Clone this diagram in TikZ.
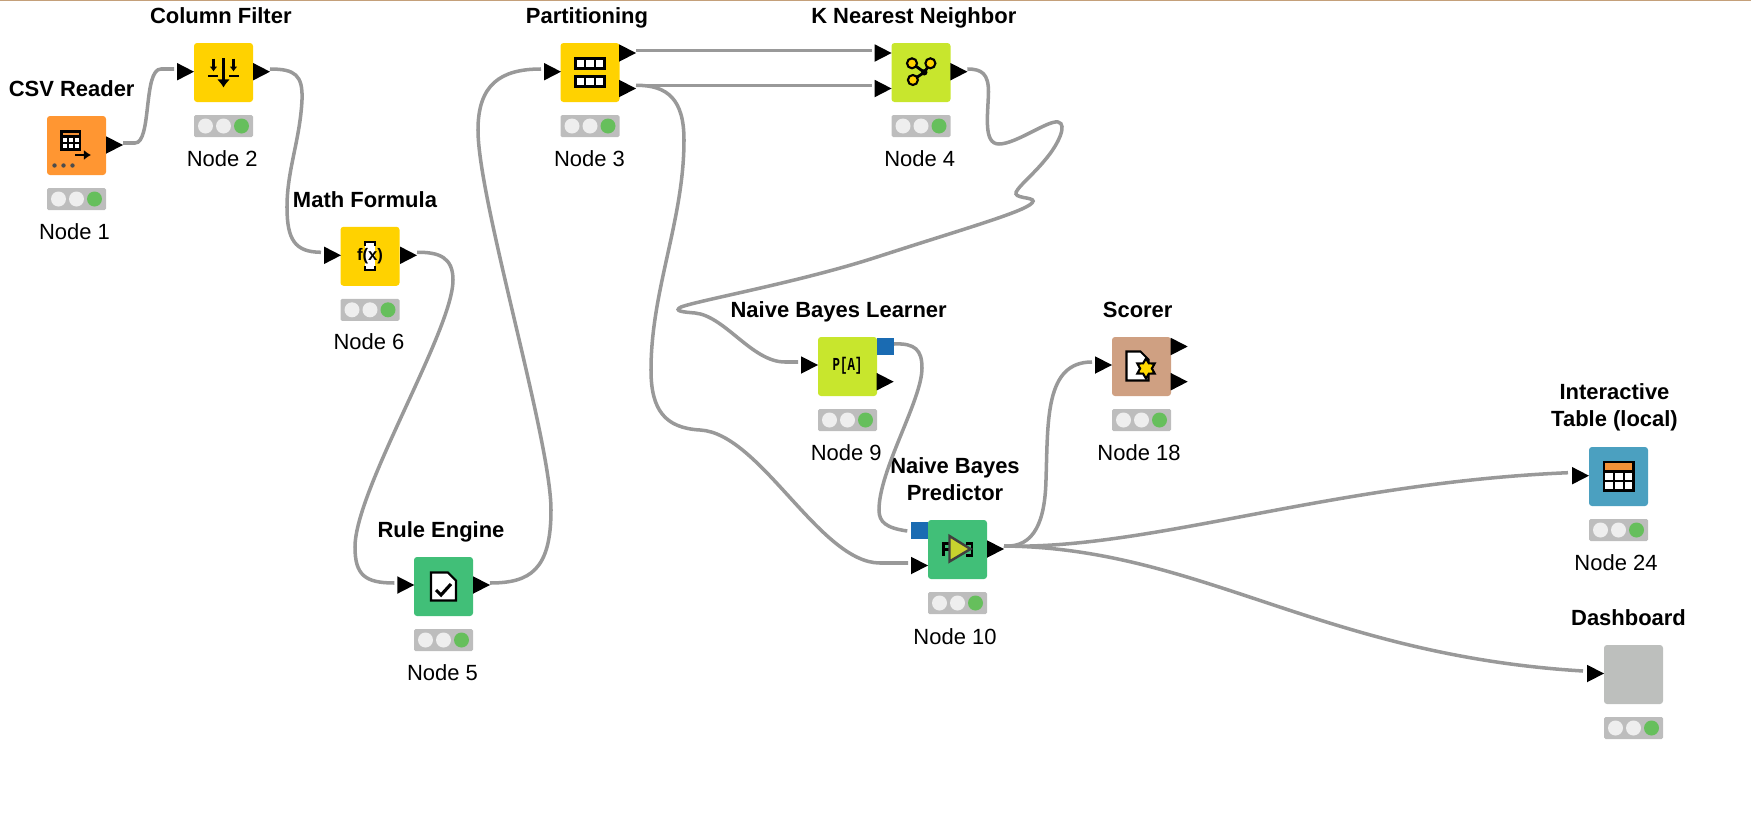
\documentclass[tikz,border=0pt]{standalone}
\usepackage{fontspec}
\setmainfont{Liberation Sans}
\newfontfamily\iconfont{Liberation Mono}
\usetikzlibrary{arrows.meta, shapes.geometric}
\definecolor{knorange}{RGB}{255,150,50}
\definecolor{knyellow}{RGB}{255,210,0}
\definecolor{knlime}{RGB}{200,230,45}
\definecolor{kngreen}{RGB}{65,191,120}
\definecolor{kntan}{RGB}{207,160,130}
\definecolor{knblue}{RGB}{75,160,192}
\definecolor{kngray}{RGB}{189,191,189}
\definecolor{modelblue}{RGB}{26,107,178}
\definecolor{wiregray}{RGB}{153,153,153}
\definecolor{barline}{RGB}{196,160,122}
\definecolor{lampgreen}{RGB}{102,191,92}
\definecolor{lampoff}{RGB}{238,238,238}
\definecolor{headorange}{RGB}{243,146,55}
\definecolor{starfill}{RGB}{255,216,0}
\definecolor{predfill}{RGB}{200,210,46}

\begin{document}
\begin{tikzpicture}[
  knode/.style={rounded corners=0.03cm, minimum width=0.59cm, minimum height=0.59cm, inner sep=0pt},
  statusbar/.style={fill=black!26, rounded corners=0.015cm, minimum width=0.59cm, minimum height=0.22cm, inner sep=0pt,
    path picture={
      \fill[lampoff, shift={(path picture bounding box.center)}] (-0.18,0) circle (0.075) (0,0) circle (0.075);
      \fill[lampgreen, shift={(path picture bounding box.center)}] (0.18,0) circle (0.075);
    }},
  ttl/.style={font=\fontsize{6.25}{7.6}\selectfont\bfseries, inner sep=0pt, text height=0.16cm, text depth=0pt},
  ttlw/.style={font=\fontsize{6.25}{7.6}\selectfont\bfseries, inner sep=0pt, align=center},
  lbl/.style={font=\fontsize{6.25}{7.6}\selectfont, inner sep=0pt, text height=0.16cm, text depth=0pt},
  port/.style={isosceles triangle, isosceles triangle stretches, shape border rotate=0, fill=black, inner sep=0pt, outer sep=0pt,
    minimum width=0.175cm, minimum height=0.17cm, anchor=west},
  mport/.style={fill=modelblue, minimum size=0.17cm, inner sep=0pt},
  wire/.style={line width=1pt, wiregray},
  ico/.style={draw=black, semithick},
  icon/.style={x=0.01cm, y=-0.01cm},
]
\useasboundingbox (0,0) rectangle (17.51,-8.31);
\fill[barline] (0,0) rectangle (17.51,-0.012);

% === CSV Reader ===
\node[ttl] (csv_t) at (0.717,-0.88) {CSV Reader};
\node[knode, fill=knorange] (csv) at (0.765,-1.455) {};
\node[statusbar] (csv_s) at (0.765,-1.99) {};
\node[lbl] (csv_l) at (0.745,-2.317) {Node 1};
\node[port] (csv_o) at (1.06,-1.45) {};
\begin{scope}[shift={(csv.center)}, icon]
  \fill[white] (-15,-14) rectangle (3.5,4);
  \fill[headorange] (-15,-14) rectangle (3.5,-9);
  \draw[ico] (-15,-14) rectangle (3.5,4);
  \draw[ico] (-15,-9) -- (3.5,-9) (-15,-2.5) -- (3.5,-2.5) (-8.8,-9) -- (-8.8,4) (-2.6,-9) -- (-2.6,4);
  \draw[-{Latex[length=0.07cm,width=0.1cm]}, line width=0.85pt] (-1.5,9.5) -- (14.5,9.5);
  \fill[black!70] (-22,20) circle (2.2) (-13,20) circle (2.2) (-4,20) circle (2.2);
\end{scope}

% === Column Filter ===
\node[ttl] (filter_t) at (2.208,-0.15) {Column Filter};
\node[knode, fill=knyellow] (filter) at (2.235,-0.725) {};
\node[statusbar] (filter_s) at (2.235,-1.26) {};
\node[lbl] (filter_l) at (2.223,-1.58) {Node 2};
\node[port] (filter_i) at (1.77,-0.717) {};
\node[port] (filter_o) at (2.53,-0.717) {};
\begin{scope}[shift={(filter.center)}, icon]
  \draw[-{Latex[length=0.08cm,width=0.13cm]}, line width=0.9pt] (0,-14.5) -- (0,15);
  \draw[-{Latex[length=0.05cm,width=0.08cm]}, line width=0.7pt] (-10,-14) -- (-10,-1);
  \draw[-{Latex[length=0.05cm,width=0.08cm]}, line width=0.7pt] (10,-14) -- (10,-1);
  \draw[line width=0.7pt] (-15.5,3.5) -- (-5.5,3.5) (5.5,3.5) -- (15.5,3.5);
\end{scope}

% === Math Formula ===
\node[ttl] (math_t) at (3.65,-1.99) {Math Formula};
\node[knode, fill=knyellow] (math) at (3.70,-2.563) {};
\node[statusbar] (math_s) at (3.70,-3.098) {};
\node[lbl] (math_l) at (3.69,-3.417) {Node 6};
\node[port] (math_i) at (3.24,-2.553) {};
\node[port] (math_o) at (4.00,-2.553) {};
\begin{scope}[shift={(math.center)}, icon]
  \fill[white] (-5,-14) rectangle (5,14);
  \draw[ico] (-5,-10) -- (-5,-14) -- (5,-14) -- (5,-10) (-5,10) -- (-5,14) -- (5,14) -- (5,10);
\end{scope}
\node[font=\fontsize{4.75}{6}\selectfont\bfseries, inner sep=0pt] (math_i_t) at (math.center) {f(x)};

% === Rule Engine ===
\node[ttl] (rule_t) at (4.41,-5.293) {Rule Engine};
\node[knode, fill=kngreen] (rule) at (4.435,-5.865) {};
\node[statusbar] (rule_s) at (4.435,-6.40) {};
\node[lbl] (rule_l) at (4.425,-6.72) {Node 5};
\node[port] (rule_i) at (3.973,-5.85) {};
\node[port] (rule_o) at (4.73,-5.85) {};
\begin{scope}[shift={(rule.center)}, icon]
  \draw[ico, fill=white] (-12.5,-14) -- (4.5,-14) -- (12.5,-6) -- (12.5,14) -- (-12.5,14) -- cycle;
  \draw[line width=0.9pt] (-7.5,3.5) -- (-2.5,8.5) -- (7.5,-2.5);
\end{scope}

% === Partitioning ===
\node[ttl] (part_t) at (5.87,-0.15) {Partitioning};
\node[knode, fill=knyellow] (part) at (5.90,-0.725) {};
\node[statusbar] (part_s) at (5.90,-1.26) {};
\node[lbl] (part_l) at (5.895,-1.58) {Node 3};
\node[port] (part_i) at (5.44,-0.717) {};
\node[port] (part_a) at (6.19,-0.53) {};
\node[port] (part_b) at (6.19,-0.885) {};
\begin{scope}[shift={(part.center)}, icon]
  \foreach \y in {-14,4} {
    \draw[ico, fill=white] (-14.5,\y) rectangle (14.5,\y+10);
    \draw[ico] (-4.8,\y) -- (-4.8,\y+10) (4.8,\y) -- (4.8,\y+10);
  }
\end{scope}

% === K Nearest Neighbor ===
\node[ttl] (knn_t) at (9.138,-0.15) {K Nearest Neighbor};
\node[knode, fill=knlime] (knn) at (9.21,-0.725) {};
\node[statusbar] (knn_s) at (9.21,-1.26) {};
\node[lbl] (knn_l) at (9.198,-1.58) {Node 4};
\node[port] (knn_a) at (8.746,-0.53) {};
\node[port] (knn_b) at (8.746,-0.885) {};
\node[port] (knn_o) at (9.504,-0.717) {};
\begin{scope}[shift={(knn.center)}, icon]
  \draw[line width=0.8pt] (3.3,-0.2) -- (-9,-9.2) (3.3,-0.2) -- (9.4,-9.2) (3.3,-0.2) -- (-8.1,7.5);
  \fill (3.3,-0.2) circle (3.2);
  \draw[ico, fill=knyellow] (-9,-9.2) circle (5) (9.4,-9.2) circle (5) (-8.1,7.5) circle (5);
\end{scope}

% === Naive Bayes Learner ===
\node[ttl] (nbl_t) at (8.387,-3.097) {Naive Bayes Learner};
\node[knode, fill=knlime] (nbl) at (8.475,-3.665) {};
\node[statusbar] (nbl_s) at (8.475,-4.20) {};
\node[lbl] (nbl_l) at (8.463,-4.52) {Node 9};
\node[port] (nbl_i) at (8.01,-3.65) {};
\node[mport] (nbl_m) at (8.85,-3.465) {};
\node[port] (nbl_o) at (8.767,-3.817) {};
\node[font=\fontsize{5.2}{6}\iconfont\bfseries, inner sep=0pt, transform shape, xscale=0.68] (nbl_i_t) at (8.475,-3.655) {P[A]};

% === Naive Bayes Predictor ===
\node[ttlw] (nbp_t) at (9.55,-4.79) {Naive Bayes\\Predictor};
\node[knode, fill=kngreen] (nbp) at (9.575,-5.495) {};
\node[statusbar] (nbp_s) at (9.575,-6.03) {};
\node[lbl] (nbp_l) at (9.55,-6.36) {Node 10};
\node[mport] (nbp_m) at (9.195,-5.305) {};
\node[port] (nbp_i) at (9.11,-5.655) {};
\node[port] (nbp_o) at (9.87,-5.49) {};
\begin{scope}[shift={(nbp.center)}, icon]
  \draw[semithick] (-8,-6) -- (-14,-6) -- (-14,6) (-14,0) -- (-8,0) (9,-6) -- (14.5,-6) -- (14.5,6) -- (9,6);
  \draw[line width=0.7pt, black!75, fill=predfill] (-8,-13.5) -- (-8,12) -- (13,-0.5) -- cycle;
\end{scope}

% === Scorer ===
\node[ttl] (score_t) at (11.377,-3.09) {Scorer};
\node[knode, fill=kntan] (score) at (11.415,-3.665) {};
\node[statusbar] (score_s) at (11.415,-4.20) {};
\node[lbl] (score_l) at (11.39,-4.52) {Node 18};
\node[port] (score_i) at (10.95,-3.65) {};
\node[port] (score_a) at (11.707,-3.465) {};
\node[port] (score_b) at (11.707,-3.817) {};
\begin{scope}[shift={(score.center)}, icon]
  \draw[ico, fill=white] (-15,-15) -- (-1,-15) -- (7,-7) -- (7,14) -- (-15,14) -- cycle;
\end{scope}
\node[star, star points=6, star point ratio=1.7, draw=black, semithick, fill=starfill, minimum size=0.2cm, inner sep=0pt] (score_star) at (11.46,-3.685) {};

% === Interactive Table ===
\node[ttlw] (view_t) at (16.145,-4.07) {Interactive\\Table (local)};
\node[knode, fill=knblue] (view) at (16.185,-4.765) {};
\node[statusbar] (view_s) at (16.185,-5.30) {};
\node[lbl] (view_l) at (16.16,-5.62) {Node 24};
\node[port] (view_i) at (15.72,-4.757) {};
\begin{scope}[shift={(view.center)}, icon]
  \fill[white] (-14.5,-14.5) rectangle (15,14);
  \fill[headorange] (-14.5,-14.5) rectangle (15,-5);
  \draw[ico] (-14.5,-14.5) rectangle (15,14);
  \draw[ico] (-14.5,-5) -- (15,-5) (-14.5,4.5) -- (15,4.5) (-4.7,-5) -- (-4.7,14) (5.1,-5) -- (5.1,14);
\end{scope}

% === Dashboard ===
\node[ttl] (dash_t) at (16.285,-6.17) {Dashboard};
\node[knode, fill=kngray] (dash) at (16.335,-6.745) {};
\node[statusbar] (dash_s) at (16.335,-7.28) {};
\node[port] (dash_i) at (15.87,-6.735) {};

% === Connectors ===
\draw[wire] ([yshift=0.02cm]csv_o.east) -- +(0.12,0) .. controls +(0.17,0) and (1.43,-0.69) .. (1.61,-0.69) -- ([shift={(-0.03,0.027)}]filter_i.west);
\draw[wire] ([yshift=0.027cm]filter_o.east) .. controls (2.95,-0.69) and (3.03,-0.75) .. (3.02,-1.00) .. controls (3.00,-1.40) and (2.87,-1.70) .. (2.87,-2.07) .. controls (2.87,-2.40) and (2.95,-2.52) .. ([shift={(-0.03,0.03)}]math_i.west);
\draw[wire] ([yshift=0.03cm]math_o.east) .. controls (4.40,-2.52) and (4.53,-2.58) .. (4.53,-2.80) .. controls (4.53,-3.30) and (3.55,-4.90) .. (3.55,-5.47) .. controls (3.55,-5.75) and (3.65,-5.83) .. ([shift={(-0.03,0.02)}]rule_i.west);
\draw[wire] ([yshift=0.02cm]rule_o.east) .. controls (5.30,-5.83) and (5.51,-5.70) .. (5.51,-5.10) .. controls (5.51,-4.40) and (4.78,-2.00) .. (4.78,-1.30) .. controls (4.78,-0.85) and (5.00,-0.69) .. ([shift={(-0.03,0.027)}]part_i.west);
\draw[wire] ([yshift=0.023cm]part_a.east) -- ([shift={(-0.03,0.023)}]knn_a.west);
\draw[wire] ([yshift=0.032cm]part_b.east) -- ([shift={(-0.03,0.032)}]knn_b.west);
\draw[wire] ([yshift=0.032cm]part_b.east) .. controls (6.68,-0.85) and (6.84,-1.00) .. (6.84,-1.40) .. controls (6.84,-2.20) and (6.51,-2.90) .. (6.51,-3.70) .. controls (6.51,-4.10) and (6.65,-4.28) .. (7.00,-4.30) .. controls (7.60,-4.33) and (8.20,-5.63) .. (8.80,-5.63) -- ([shift={(-0.03,0.025)}]nbp_i.west);
\draw[wire] ([yshift=0.027cm]knn_o.east) .. controls (9.82,-0.69) and (9.885,-0.74) .. (9.885,-0.92) .. controls (9.88,-1.15) and (9.83,-1.44) .. (9.99,-1.44) .. controls (10.16,-1.44) and (10.48,-1.20) .. (10.58,-1.22) .. controls (10.68,-1.24) and (10.58,-1.45) .. (10.45,-1.60) .. controls (10.33,-1.75) and (10.14,-1.90) .. (10.16,-1.94) .. controls (10.18,-1.99) and (10.38,-1.97) .. (10.32,-2.03) .. controls (10.24,-2.12) and (9.60,-2.30) .. (8.77,-2.57) .. controls (8.00,-2.82) and (7.00,-3.00) .. (6.81,-3.07) .. controls (6.73,-3.11) and (6.83,-3.12) .. (6.95,-3.13) .. controls (7.25,-3.16) and (7.52,-3.62) .. (7.85,-3.62) -- ([shift={(-0.03,0.03)}]nbl_i.west);
\draw[wire] ([yshift=0.025cm]nbl_m.east) .. controls (9.15,-3.43) and (9.22,-3.50) .. (9.22,-3.68) .. controls (9.22,-4.00) and (8.79,-4.70) .. (8.79,-5.10) .. controls (8.79,-5.22) and (8.86,-5.28) .. ([shift={(-0.03,-0.005)}]nbp_m.west);
\draw[wire] ([yshift=0.03cm]nbp_o.east) .. controls (10.35,-5.48) and (10.45,-5.20) .. (10.46,-4.80) .. controls (10.48,-4.20) and (10.45,-3.62) .. ([shift={(-0.03,0.03)}]score_i.west);
\draw[wire] ([yshift=0.03cm]nbp_o.east) .. controls (11.50,-5.50) and (13.30,-4.83) .. ([shift={(-0.04,0.03)}]view_i.west);
\draw[wire] ([yshift=0.03cm]nbp_o.east) .. controls (12.00,-5.48) and (13.20,-6.55) .. ([shift={(-0.04,0.025)}]dash_i.west);
\end{tikzpicture}
\end{document}
